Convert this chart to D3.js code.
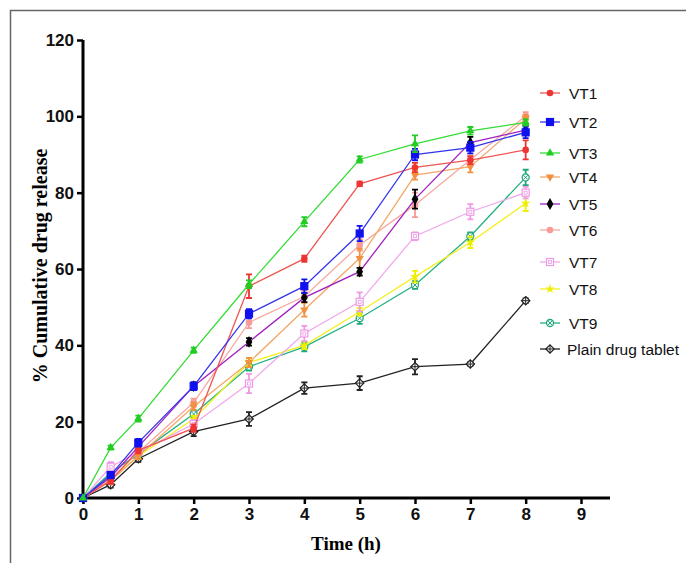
<!DOCTYPE html>
<html>
<head>
<meta charset="utf-8">
<script src="https://cdn.jsdelivr.net/npm/d3@7"></script>
<style>
  body { margin: 0; background: #fff; }
  svg { display: block; }
</style>
</head>
<body>
<div id="chart"></div>
<script>
// Time points (h)
var times = [0, 0.5, 1, 2, 3, 4, 5, 6, 7, 8];

// Series values (% cumulative release) and their error bars
var seriesNames = ["VT1", "VT2", "VT3", "VT4", "VT5", "VT6", "VT7", "VT8", "VT9", "Plain drug tablet"];

var vt1 = [0, 4.5, 12.5, 18.3, 55.5, 62.7, 82.3, 86.6, 88.5, 91.2];
var vt2 = [0, 6, 14.5, 29.3, 48.3, 55.5, 69.3, 90, 91.8, 95.8];
var vt3 = [0, 13.2, 20.8, 38.7, 56, 72.4, 88.7, 92.8, 96.2, 98.4];
var vt4 = [0, 4.5, 11, 24, 35.5, 49.3, 62.8, 84.6, 86.8, 99.4];
var vt5 = [0, 5.5, 13.4, 29.3, 40.9, 52.5, 59.3, 78.3, 93.1, 96.4];
var vt6 = [0, 5, 12, 25, 46, 52.8, 66.3, 76.8, 88.6, 100.1];
var vt7 = [0, 8.2, 12, 19.4, 30, 43.1, 51.4, 68.6, 75, 80];
var vt8 = [0, 5, 11, 20.7, 35.5, 40, 48.8, 58, 67, 77.2];
var vt9 = [0, 6.6, 11.5, 22, 34.4, 39.6, 47.1, 55.8, 68.6, 84];
var plain = [0, 3.5, 10.3, 17.4, 20.7, 28.8, 30.1, 34.4, 35.1, 51.7];

var vt1Err = [0, 0.8, 0.8, 1, 3.1, 0.8, 0.6, 1.2, 1, 2.5];
var vt2Err = [0, 0.8, 1, 1, 1.2, 1.8, 2, 1.5, 1.5, 1.5];
var vt3Err = [0, 0.5, 0.8, 0.7, 1, 1.2, 0.8, 2.2, 1, 0.8];
var vt4Err = [0, 0.8, 0.8, 1, 1.2, 1.8, 2.5, 1.2, 1.5, 1];
var vt5Err = [0, 0.8, 0.8, 1, 1, 1.2, 1, 2.5, 1.5, 1.2];
var vt6Err = [0, 0.8, 0.8, 1, 1.5, 1.5, 1.5, 3.2, 1.2, 1];
var vt7Err = [0, 1.2, 0.8, 1, 2.5, 2, 2.5, 1, 2, 1.5];
var vt8Err = [0, 0.8, 0.8, 0.8, 1, 1, 1, 1.5, 1.5, 2];
var vt9Err = [0, 1, 0.8, 1, 1, 1.2, 1.5, 1, 1, 2];
var plainErr = [0, 0.8, 0.8, 1.2, 1.8, 1.5, 1.8, 2, 0.5, 0.6];

var xTicks = [0, 1, 2, 3, 4, 5, 6, 7, 8, 9];
var yTicks = [0, 20, 40, 60, 80, 100, 120];

var allValues = [vt1, vt2, vt3, vt4, vt5, vt6, vt7, vt8, vt9, plain];
var allErrors = [vt1Err, vt2Err, vt3Err, vt4Err, vt5Err, vt6Err, vt7Err, vt8Err, vt9Err, plainErr];

// Styles for each series (line colour, marker colour, marker type, fill)
var styles = [
  { line: "#ee5555", mark: "#ee3333", sym: "circle", fill: true },
  { line: "#3333ee", mark: "#1010ee", sym: "square", fill: true },
  { line: "#33dd33", mark: "#22cc22", sym: "triangle", fill: true },
  { line: "#f2a868", mark: "#f09040", sym: "triangleDown", fill: true },
  { line: "#a020c0", mark: "#000000", sym: "diamond", fill: true },
  { line: "#f8a8a0", mark: "#f89a96", sym: "circle", fill: true },
  { line: "#f0a8ea", mark: "#ee99e6", sym: "square", fill: false },
  { line: "#f4f020", mark: "#eeee00", sym: "star", fill: true },
  { line: "#22b080", mark: "#20a878", sym: "circleX", fill: false },
  { line: "#222222", mark: "#222222", sym: "diamondX", fill: false }
];

// legend row offsets (px) — the reference spacing is uneven
var legendRows = [93, 122, 153, 177, 204, 230, 262, 289, 323, 349];

var svgWidth = 686;
var svgHeight = 563;

var margin = { top: 40, left: 83 };
var plotW = 498;   // 0..9 on x
var plotH = 458;   // 0..120 on y

var svg = d3.select("#chart")
  .append("svg")
  .attr("width", svgWidth)
  .attr("height", svgHeight);

// outer frame
svg.append("rect")
  .attr("x", 10.5).attr("y", 10.5)
  .attr("width", 800).attr("height", 700)
  .attr("fill", "none")
  .attr("stroke", "#666")
  .attr("stroke-width", 1.5);

var chartGroup = svg.append("g")
  .attr("transform", `translate(${margin.left}, ${margin.top})`);

var x = d3.scaleLinear().domain([0, 9]).range([0, plotW]);
var y = d3.scaleLinear().domain([0, 120]).range([plotH, 0]);

var tickFont = "'Liberation Sans Narrow', 'Arial Narrow', 'Liberation Sans', sans-serif";

// axes
var xAxis = d3.axisBottom(x).tickValues(xTicks).tickSize(6).tickPadding(4).tickSizeOuter(0);
var yAxis = d3.axisLeft(y).tickValues(yTicks).tickSize(6).tickPadding(3).tickSizeOuter(0);

var gx = chartGroup.append("g")
  .attr("transform", `translate(0, ${plotH})`)
  .call(xAxis);
var gy = chartGroup.append("g").call(yAxis);

[gx, gy].forEach(function(g) {
  g.select(".domain").attr("stroke", "#000").attr("stroke-width", 3);
  g.selectAll(".tick line").attr("stroke", "#000").attr("stroke-width", 2.5);
  g.selectAll(".tick text")
    .attr("fill", "#111")
    .style("font-family", tickFont)
    .style("font-weight", "bold")
    .style("font-size", "17px");
});
// x axis runs a little past 9
gx.select(".domain").attr("d", `M-1.5,0H${x(9) + 29}`);
gy.select(".domain").attr("d", `M0,${plotH + 1.5}V0`);

// axis titles
svg.append("text")
  .attr("transform", `translate(47, 266) rotate(-90)`)
  .attr("text-anchor", "middle")
  .style("font-family", "'Liberation Serif', 'Times New Roman', serif")
  .style("font-weight", "bold")
  .style("font-size", "20px")
  .text("% Cumulative drug release");

svg.append("text")
  .attr("x", 346)
  .attr("y", 550)
  .attr("text-anchor", "middle")
  .style("font-family", "'Liberation Serif', 'Times New Roman', serif")
  .style("font-weight", "bold")
  .style("font-size", "19px")
  .text("Time (h)");

// marker drawing
function drawMarker(g, st, cx, cy) {
  var m = g.append("g").attr("transform", `translate(${cx}, ${cy})`);
  var fill = st.fill ? st.mark : "#fff";
  if (st.sym === "circle") {
    m.append("circle").attr("r", 3.3).attr("fill", st.mark);
  } else if (st.sym === "square") {
    m.append("rect").attr("x", -3.5).attr("y", -3.5).attr("width", 7).attr("height", 7)
      .attr("fill", fill).attr("stroke", st.mark).attr("stroke-width", 1.2);
    if (!st.fill) {
      m.append("rect").attr("x", -1.5).attr("y", -1.5).attr("width", 3).attr("height", 3)
        .attr("fill", "none").attr("stroke", st.mark).attr("stroke-width", 0.8);
    }
  } else if (st.sym === "triangle") {
    m.append("path").attr("d", d3.symbol(d3.symbolTriangle, 30)()).attr("fill", st.mark);
  } else if (st.sym === "triangleDown") {
    m.append("path").attr("d", d3.symbol(d3.symbolTriangle, 30)())
      .attr("transform", "rotate(180)").attr("fill", st.mark);
  } else if (st.sym === "diamond") {
    m.append("path").attr("d", d3.symbol(d3.symbolDiamond, 40)()).attr("fill", st.mark);
  } else if (st.sym === "star") {
    m.append("path").attr("d", d3.symbol(d3.symbolStar, 28)()).attr("fill", st.mark);
  } else if (st.sym === "circleX") {
    m.append("circle").attr("r", 3.5).attr("fill", "#fff").attr("stroke", st.mark).attr("stroke-width", 1.3);
    m.append("path").attr("d", "M-2.3,-2.3L2.3,2.3M-2.3,2.3L2.3,-2.3").attr("stroke", st.mark).attr("stroke-width", 1);
  } else if (st.sym === "diamondX") {
    m.append("path").attr("d", "M0,-4.2L4.2,0L0,4.2L-4.2,0Z").attr("fill", "#fff").attr("stroke", st.mark).attr("stroke-width", 1.2);
    m.append("path").attr("d", "M0,-4.2V4.2M-4.2,0H4.2").attr("stroke", st.mark).attr("stroke-width", 1);
  }
}

var line = d3.line()
  .x(function(d) { return x(d.t); })
  .y(function(d) { return y(d.v); });

// build series records from the arrays
var seriesData = seriesNames.map(function(name, i) {
  return {
    name: name,
    style: styles[i],
    points: times.map(function(t, j) {
      return { t: t, v: allValues[i][j], e: allErrors[i][j] };
    })
  };
});

var order = [9, 8, 7, 6, 5, 3, 4, 0, 1, 2];
order.forEach(function(i) {
  var s = seriesData[i];
  var g = chartGroup.append("g");
  g.append("path")
    .datum(s.points)
    .attr("d", line)
    .attr("fill", "none")
    .attr("stroke", s.style.line)
    .attr("stroke-width", 1.3);

  s.points.forEach(function(p) {
    if (p.e > 0) {
      var cx = x(p.t);
      g.append("path")
        .attr("d", `M${cx},${y(p.v - p.e)}V${y(p.v + p.e)}M${cx - 3},${y(p.v - p.e)}H${cx + 3}M${cx - 3},${y(p.v + p.e)}H${cx + 3}`)
        .attr("stroke", s.style.mark)
        .attr("stroke-width", 1.8)
        .attr("fill", "none");
    }
    drawMarker(g, s.style, x(p.t), y(p.v));
  });
});

// legend
var legend = svg.append("g");
seriesData.forEach(function(s, i) {
  var ly = legendRows[i];
  legend.append("line")
    .attr("x1", 540).attr("x2", 560)
    .attr("y1", ly).attr("y2", ly)
    .attr("stroke", s.style.line)
    .attr("stroke-width", 1.3);
  drawMarker(legend, s.style, 550, ly);
  legend.append("text")
    .attr("x", i === 9 ? 567 : 569)
    .attr("y", ly + 5.5)
    .style("font-family", "'Liberation Sans', Arial, sans-serif")
    .style("font-size", "15.5px")
    .attr("fill", "#111")
    .text(s.name);
});
</script>
</body>
</html>
